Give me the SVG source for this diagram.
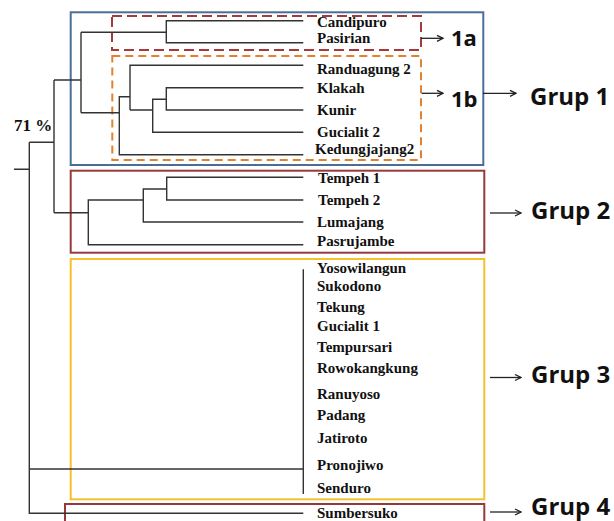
<svg xmlns="http://www.w3.org/2000/svg" width="614" height="521" viewBox="0 0 614 521">
<defs>
<marker id="ah" markerWidth="8" markerHeight="8" refX="7" refY="4" orient="auto" markerUnits="userSpaceOnUse">
<path d="M1,1 L7,4 L1,7" fill="none" stroke="#222" stroke-width="1.3"/>
</marker>
</defs>
<style>
.t{font-family:"Liberation Serif","Times New Roman",serif;font-weight:bold;font-size:15px;fill:#111}
.p{font-family:"Liberation Serif","Times New Roman",serif;font-weight:bold;font-size:17px;fill:#111}
.g{font-family:"Open Sans","Liberation Sans",sans-serif;font-weight:bold;font-size:24px;fill:#111}
.s{font-family:"Open Sans","Liberation Sans",sans-serif;font-weight:bold;font-size:22px;fill:#111}
.ln{fill:none;stroke:#333;stroke-width:1.4}
.ar{fill:none;stroke:#222;stroke-width:1.3;marker-end:url(#ah)}
.box{fill:none;stroke-width:2}
</style>
<rect width="614" height="521" fill="#fff"/>

<g id="boxes">
<rect id="box-grup1" class="box" x="70.7" y="12.3" width="412.6" height="152.7" stroke="#4a6e96"/>
<rect id="box-1a" class="box" x="112" y="16" width="309" height="34" stroke="#a33a3c" stroke-dasharray="10,5"/>
<rect id="box-1b" class="box" x="112.3" y="56" width="308.7" height="104" stroke="#e2822e" stroke-dasharray="8,5"/>
<rect id="box-grup2" class="box" x="70.7" y="170.7" width="413.6" height="82" stroke="#97393b"/>
<rect id="box-grup3" class="box" x="70.7" y="259" width="413.6" height="240.3" stroke="#f6c12f"/>
<rect id="box-grup4" class="box" x="65" y="504" width="419.3" height="30" stroke="#97393b"/>
</g>

<g id="connectors">
<path class="ln" d="M303.3 20.7 H166.3 V42.7 H303.3 M166.3 32.3 H81"/>
<path class="ln" d="M303.3 87.7 H166.3 V110 H303.3 M166.3 99.3 H152.7 V132.3 H303.3 M152.7 110 H130"/>
<path class="ln" d="M303.3 65.3 H130 V110 M130 96.7 H119.3 V154.7 H303.3 M119.3 112.7 H81"/>
<path class="ln" d="M81 32.3 V112.7 M81 80 H54"/>
<path class="ln" d="M303.3 177.3 H166.7 V200 H303.3 M166.7 189 H143.3 V222 H303.3 M143.3 200 H88.3 V244.7 H303.3 M88.3 212.7 H54"/>
<path class="ln" d="M54 80 V212.7 M54 142.3 H29.3"/>
<path class="ln" d="M303.3 269.3 V494 M303.3 469 H29.3"/>
<path class="ln" d="M303.3 513.3 H29.3 V142.3 M29.3 169.3 H14"/>
<path class="ar" d="M421 38.3 H443"/>
<path class="ar" d="M421.7 93.3 H443"/>
<path class="ar" d="M483 93.3 H516"/>
<path class="ar" d="M490 213 H521"/>
<path class="ar" d="M490 377.5 H521"/>
<path class="ar" d="M490 512 H521"/>
</g>

<g id="label-71"><text class="p" x="14" y="131">71 %</text></g>

<g id="n-candipuro"><text class="t" x="317" y="27">Candipuro</text></g>
<g id="n-pasirian"><text class="t" x="317" y="43.3">Pasirian</text></g>
<g id="n-randuagung2"><text class="t" x="317" y="74">Randuagung 2</text></g>
<g id="n-klakah"><text class="t" x="317" y="93.3">Klakah</text></g>
<g id="n-kunir"><text class="t" x="317" y="115">Kunir</text></g>
<g id="n-gucialit2"><text class="t" x="317" y="137.3">Gucialit 2</text></g>
<g id="n-kedungjajang2"><text class="t" x="315" y="153.5">Kedungjajang2</text></g>

<g id="n-tempeh1"><text class="t" x="318" y="183.3">Tempeh 1</text></g>
<g id="n-tempeh2"><text class="t" x="318" y="205">Tempeh 2</text></g>
<g id="n-lumajang"><text class="t" x="317" y="226.7">Lumajang</text></g>
<g id="n-pasrujambe"><text class="t" x="317" y="246">Pasrujambe</text></g>

<g id="n-yosowilangun"><text class="t" x="317" y="272.8">Yosowilangun</text></g>
<g id="n-sukodono"><text class="t" x="317" y="291.2">Sukodono</text></g>
<g id="n-tekung"><text class="t" x="317" y="311.8">Tekung</text></g>
<g id="n-gucialit1"><text class="t" x="317" y="330.5">Gucialit 1</text></g>
<g id="n-tempursari"><text class="t" x="317" y="351.8">Tempursari</text></g>
<g id="n-rowokangkung"><text class="t" x="317" y="372.8">Rowokangkung</text></g>
<g id="n-ranuyoso"><text class="t" x="317" y="398.5">Ranuyoso</text></g>
<g id="n-padang"><text class="t" x="317" y="420.2">Padang</text></g>
<g id="n-jatiroto"><text class="t" x="317" y="442.8">Jatiroto</text></g>
<g id="n-pronojiwo"><text class="t" x="317" y="469.5">Pronojiwo</text></g>
<g id="n-senduro"><text class="t" x="317" y="492.8">Senduro</text></g>
<g id="n-sumbersuko"><text class="t" x="317" y="518">Sumbersuko</text></g>

<g id="l-1a"><text class="s" x="451" y="46">1a</text></g>
<g id="l-1b"><text class="s" x="451" y="106.7">1b</text></g>
<g id="l-grup1"><text class="g" x="530" y="105">Grup 1</text></g>
<g id="l-grup2"><text class="g" x="531" y="218.5">Grup 2</text></g>
<g id="l-grup3"><text class="g" x="531" y="383">Grup 3</text></g>
<g id="l-grup4"><text class="g" x="531" y="514.5">Grup 4</text></g>
</svg>
